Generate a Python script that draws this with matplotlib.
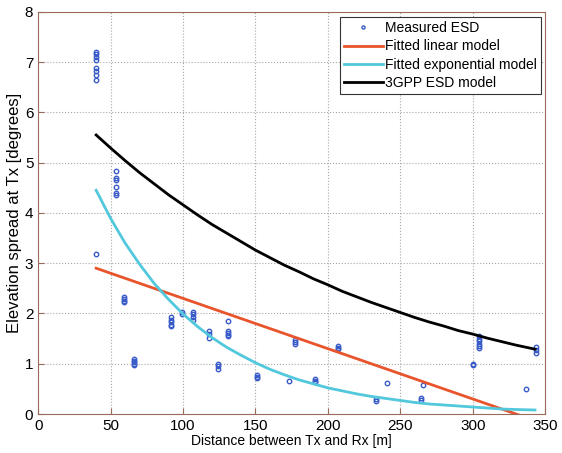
import numpy as np
import matplotlib
matplotlib.use("Agg")
from matplotlib import pyplot as plt

plt.rcParams['font.family'] = ['Liberation Sans', 'DejaVu Sans']

# measured ESD points (distance [m], ESD [deg])
meas_d = [40, 40, 40, 40, 40, 40, 40, 40, 40,
          54, 54, 54, 54, 54, 54,
          59, 59, 59, 59,
          66, 66, 66, 66, 66,
          92, 92, 92, 92, 92,
          99, 99,
          107, 107, 107, 107,
          118, 118, 118,
          124, 124, 124,
          131, 131, 131, 131, 131,
          151, 151, 151,
          173,
          177, 177, 177,
          191, 191, 191,
          207, 207, 207,
          233, 233,
          241,
          264, 264,
          266,
          300, 300,
          304, 304, 304, 304, 304, 304,
          337,
          344, 344, 344]
meas_esd = [7.2, 7.16, 7.1, 7.04, 6.88, 6.82, 6.75, 6.65, 3.18,
            4.84, 4.7, 4.65, 4.52, 4.4, 4.35,
            2.32, 2.28, 2.25, 2.22,
            1.1, 1.06, 1.03, 1.0, 0.97,
            1.92, 1.87, 1.83, 1.78, 1.75,
            2.02, 1.98,
            2.02, 1.98, 1.93, 1.88,
            1.65, 1.6, 1.52,
            1.0, 0.95, 0.9,
            1.85, 1.65, 1.62, 1.58, 1.55,
            0.78, 0.74, 0.71,
            0.66,
            1.48, 1.44, 1.4,
            0.7, 0.66, 0.63,
            1.36, 1.32, 1.29,
            0.29, 0.26,
            0.62,
            0.32, 0.28,
            0.57,
            1.0, 0.98,
            1.55, 1.5, 1.45, 1.4, 1.36, 1.32,
            0.5,
            1.33, 1.28, 1.22]

# model curves (read at these distances)
model_d = [40, 50, 60, 70, 80, 90, 100, 110, 120, 130, 140, 150, 160, 170, 180, 190,
           200, 210, 220, 230, 240, 250, 260, 270, 280, 290, 300, 310, 320, 330, 343]
gpp_esd = [5.55, 5.29, 5.04, 4.80, 4.58, 4.36, 4.16, 3.96, 3.77, 3.60, 3.43, 3.26, 3.11, 2.96,
           2.83, 2.69, 2.57, 2.44, 2.33, 2.22, 2.12, 2.02, 1.92, 1.83, 1.75, 1.66, 1.59, 1.51,
           1.44, 1.37, 1.29]
exp_esd = [4.45, 3.89, 3.40, 2.98, 2.60, 2.28, 1.99, 1.74, 1.52, 1.33, 1.17, 1.02, 0.89, 0.78,
           0.68, 0.60, 0.52, 0.46, 0.40, 0.35, 0.31, 0.27, 0.23, 0.20, 0.18, 0.16, 0.14, 0.12,
           0.10, 0.09, 0.08]
lin_d = [40, 343]
lin_esd = [2.9, -0.13]

fig = plt.figure(figsize=(5.62, 4.53), dpi=100)
ax = fig.add_axes([0.068, 0.086, 0.902, 0.888])

ax.plot(meas_d, meas_esd, 'o', ms=3.2, mfc='none', mec='#3a5cc8', mew=1.0, label='Measured ESD')
ax.plot(lin_d, lin_esd, color='#e8542c', lw=2, label='Fitted linear model')
ax.plot(model_d, exp_esd, color='#52c8dc', lw=2, label='Fitted exponential model')
ax.plot(model_d, gpp_esd, color='black', lw=2, label='3GPP ESD model')

ax.set_xlim(0, 350)
ax.set_ylim(0, 8)
ax.set_xticks(np.arange(0, 351, 50))
ax.set_yticks(np.arange(0, 9, 1))
ax.grid(True, linestyle=':', color='#a8a8a8', lw=0.8)
ax.tick_params(direction='in', length=4, labelsize=11, color='#9a6a5a')
for s in ax.spines.values():
    s.set_color('#9a6a5a')

ax.set_xlabel('Distance between Tx and Rx [m]', fontsize=10, labelpad=1)
ax.set_ylabel('Elevation spread at Tx [degrees]', fontsize=12, labelpad=2)

leg = ax.legend(loc='upper right', fontsize=10, fancybox=False, framealpha=1,
                edgecolor='#333333', handlelength=2.8, handletextpad=0.15,
                borderpad=0.3, labelspacing=0.3, markerscale=0.7,
                borderaxespad=0.3, bbox_to_anchor=(1.0, 0.997))
leg.get_frame().set_linewidth(0.8)

plt.savefig('out.png', dpi=100)
